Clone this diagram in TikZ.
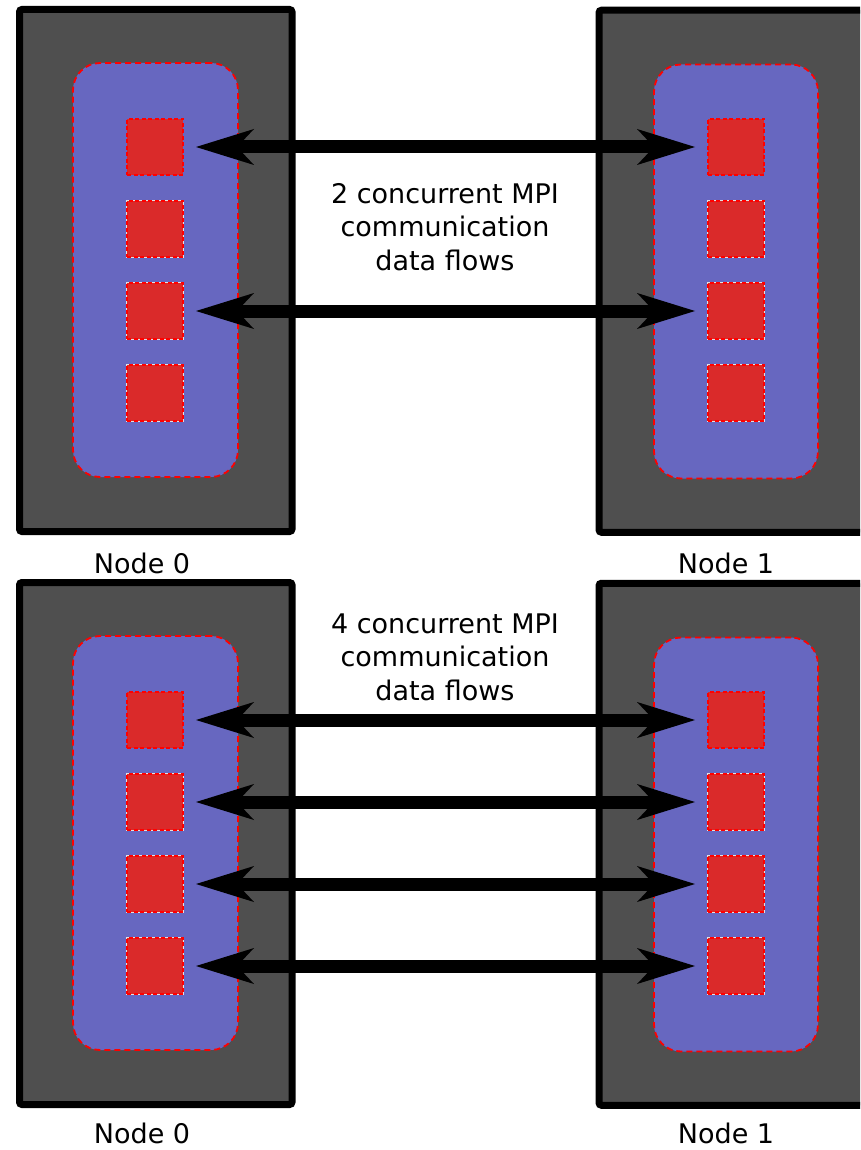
\documentclass[tikz,border=0pt]{standalone}
\usepackage{fontspec}
\setmainfont{DejaVu Sans}
\usetikzlibrary{arrows.meta}

\definecolor{chassis}{HTML}{4F4F4F}
\definecolor{socketblue}{HTML}{6767C0}
\definecolor{corered}{HTML}{DA2A2A}
\definecolor{gapwhite}{HTML}{E2E2E2}

\begin{document}
\begin{tikzpicture}[x=1pt,y=-1pt,
  machine/.style={draw=black, fill=chassis, line width=7pt, rounded corners=2.5pt,
    minimum width=272.5pt, minimum height=522pt, inner sep=0pt, outer sep=0pt},
  socket/.style={draw=red, fill=socketblue, line width=1.8pt, dash pattern=on 6pt off 4pt,
    rounded corners=27pt, minimum width=165pt, minimum height=414pt, inner sep=0pt, outer sep=0pt},
  core/.style={draw=red, fill=corered, line width=1.5pt, dash pattern=on 4pt off 2.5pt,
    minimum size=56pt, inner sep=0pt, outer sep=0pt},
  spare/.style={core, preaction={draw=gapwhite, solid, line width=1.4pt}},
  flow/.style={line width=13pt,
    >={Stealth[length=58pt, width=36pt, inset=17pt, line width=0pt]}, <->,
    shorten <=13pt, shorten >=13pt},
  caption/.style={font=\fontsize{27}{33.5}\selectfont, align=center, anchor=base, inner sep=0pt},
  hostname/.style={font=\fontsize{27}{33.5}\selectfont, anchor=base, inner sep=0pt, text depth=0pt},
]
\useasboundingbox (0,0) rectangle (860,1150);
\clip (0,0) rectangle (860,1150);

% two identical panels: a pair of compute nodes, each with one socket of four cores
\foreach \p/\dy in {t/0,b/573}{
  \node[machine] (\p L) at (155.75, 270.5+\dy) {};
  \node[machine] (\p R) at (735.25, 271.25+\dy) {};
  \node[socket] (\p Ls) at (155.5, 270+\dy) {};
  \node[socket, minimum width=164pt] (\p Rs) at (736, 271.5+\dy) {};
  \node[core] (\p L1) at (155, 147+\dy) {};
  \node[core] (\p R1) at (736, 147+\dy) {};
  \foreach \k/\y in {2/229,3/311,4/393}{
    \node[spare] (\p L\k) at (155, \y+\dy) {};
    \node[spare] (\p R\k) at (736, \y+\dy) {};
  }
}

% top panel: two flows (caption anchored on the baseline of its last line)
\draw[flow] (tL1) -- (tR1);
\draw[flow] (tL3) -- (tR3);
\node[caption] (tcap) at (445,270) {2 concurrent MPI\\communication\\data flows};
\node[hostname] (tn0) at (142,573) {Node 0};
\node[hostname] (tn1) at (726,573) {Node 1};

% bottom panel: four flows
\foreach \k in {1,...,4}{
  \draw[flow] (bL\k) -- (bR\k);
}
\node[caption] (bcap) at (445,700) {4 concurrent MPI\\communication\\data flows};
\node[hostname] (bn0) at (142,1143) {Node 0};
\node[hostname] (bn1) at (726,1143) {Node 1};
\end{tikzpicture}
\end{document}
